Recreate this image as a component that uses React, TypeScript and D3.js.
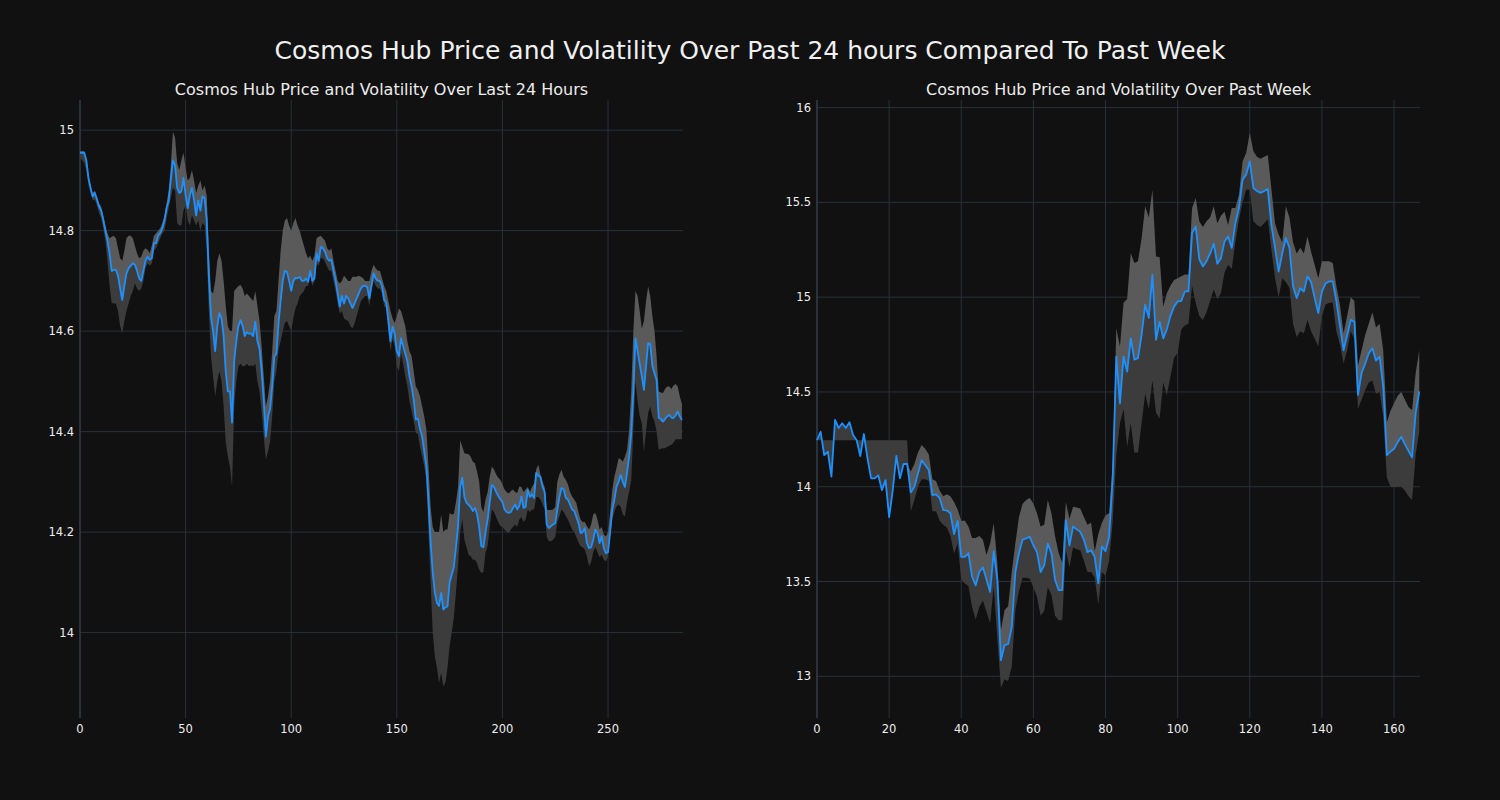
import React, { useEffect } from 'react';
import * as d3 from 'd3';

// last 24 hours (one point per 5 min)
const dayPrice = [
  14.955, 14.955, 14.955, 14.94, 14.905, 14.885, 14.868, 14.875, 14.862, 14.848,
  14.84, 14.822, 14.8, 14.78, 14.755, 14.72, 14.722, 14.722, 14.71, 14.685,
  14.662, 14.69, 14.715, 14.725, 14.73, 14.735, 14.732, 14.72, 14.705, 14.7,
  14.72, 14.74, 14.748, 14.742, 14.745, 14.775, 14.775, 14.79, 14.795, 14.805,
  14.82, 14.845, 14.86, 14.9, 14.94, 14.93, 14.885, 14.875, 14.878, 14.905,
  14.87, 14.845, 14.87, 14.885, 14.86, 14.83, 14.86, 14.84, 14.868, 14.865,
  14.82, 14.71, 14.63, 14.6, 14.56, 14.61, 14.636, 14.625, 14.59, 14.52,
  14.48, 14.48, 14.418, 14.54, 14.58, 14.61, 14.622, 14.61, 14.59, 14.598,
  14.595, 14.595, 14.59, 14.619, 14.58, 14.565, 14.52, 14.46, 14.39, 14.43,
  14.445, 14.49, 14.55, 14.555, 14.616, 14.66, 14.7, 14.72, 14.718, 14.7,
  14.68, 14.7, 14.706, 14.705, 14.708, 14.7, 14.7, 14.705, 14.698, 14.72,
  14.7, 14.705, 14.755, 14.74, 14.768, 14.765, 14.758, 14.745, 14.74, 14.742,
  14.72, 14.7, 14.675, 14.649, 14.67, 14.655, 14.67, 14.665, 14.655, 14.646,
  14.655, 14.665, 14.675, 14.685, 14.69, 14.69, 14.688, 14.665, 14.69, 14.715,
  14.705, 14.7, 14.7, 14.69, 14.662, 14.657, 14.62, 14.58, 14.609, 14.595,
  14.56, 14.55, 14.586, 14.57, 14.555, 14.54, 14.51, 14.49, 14.463, 14.424,
  14.426, 14.405, 14.39, 14.36, 14.33, 14.26, 14.18, 14.12, 14.08, 14.059,
  14.053, 14.079, 14.046, 14.05, 14.052, 14.1, 14.115, 14.13, 14.17, 14.212,
  14.29, 14.308, 14.27, 14.258, 14.254, 14.25, 14.242, 14.248, 14.235, 14.21,
  14.172, 14.17, 14.2, 14.225, 14.26, 14.294, 14.29, 14.28, 14.272, 14.266,
  14.26, 14.245, 14.24, 14.238, 14.24, 14.248, 14.255, 14.245, 14.252, 14.271,
  14.248, 14.25, 14.284, 14.27, 14.275, 14.268, 14.318, 14.312, 14.31, 14.29,
  14.28, 14.215, 14.208, 14.212, 14.215, 14.218, 14.245, 14.27, 14.288, 14.285,
  14.268, 14.265, 14.255, 14.245, 14.242, 14.23, 14.218, 14.198, 14.2, 14.208,
  14.178, 14.168, 14.17, 14.185, 14.205, 14.198, 14.178, 14.192, 14.168, 14.158,
  14.16, 14.2, 14.245, 14.264, 14.29, 14.3, 14.314, 14.3, 14.29, 14.318,
  14.35, 14.397, 14.48, 14.586, 14.56, 14.535, 14.51, 14.483, 14.53, 14.576,
  14.574, 14.53, 14.516, 14.503, 14.427, 14.425, 14.42, 14.425, 14.43, 14.433,
  14.428, 14.427, 14.432, 14.44, 14.43, 14.423,
];

const dayUpper = [
  14.958, 14.958, 14.958, 14.945, 14.91, 14.89, 14.875, 14.88, 14.868, 14.855,
  14.848, 14.83, 14.81, 14.795, 14.785, 14.788, 14.79, 14.785, 14.765, 14.745,
  14.74, 14.76, 14.785, 14.79, 14.79, 14.785, 14.77, 14.755, 14.745, 14.748,
  14.76, 14.765, 14.762, 14.755, 14.77, 14.79, 14.795, 14.8, 14.805, 14.815,
  14.83, 14.855, 14.88, 14.93, 14.997, 14.985, 14.935, 14.92, 14.94, 14.955,
  14.925, 14.9, 14.905, 14.92, 14.9, 14.875, 14.89, 14.9, 14.88, 14.89,
  14.87, 14.76, 14.68, 14.675, 14.7, 14.74, 14.755, 14.74, 14.7, 14.65,
  14.61, 14.6, 14.6, 14.68, 14.685, 14.69, 14.692, 14.685, 14.67, 14.675,
  14.67, 14.665, 14.66, 14.68, 14.65, 14.62, 14.57, 14.51, 14.45, 14.47,
  14.5, 14.56, 14.63, 14.64, 14.7, 14.76, 14.8, 14.82, 14.825, 14.81,
  14.8, 14.815, 14.825, 14.81, 14.8, 14.785, 14.77, 14.755, 14.745, 14.75,
  14.74, 14.75, 14.785, 14.788, 14.79, 14.785, 14.78, 14.765, 14.76, 14.765,
  14.74, 14.72, 14.7, 14.695, 14.7, 14.71, 14.705, 14.7, 14.7, 14.708,
  14.708, 14.708, 14.71, 14.708, 14.705, 14.7, 14.7, 14.7, 14.72, 14.732,
  14.725, 14.72, 14.72, 14.705, 14.69, 14.68, 14.66, 14.64, 14.625, 14.616,
  14.63, 14.645, 14.64, 14.625, 14.61, 14.58, 14.56, 14.55, 14.52, 14.49,
  14.483, 14.47, 14.45, 14.43, 14.404, 14.33, 14.25, 14.21, 14.2, 14.2,
  14.2, 14.235, 14.2, 14.205, 14.205, 14.238, 14.235, 14.236, 14.26, 14.29,
  14.383, 14.37, 14.357, 14.356, 14.355, 14.35, 14.34, 14.337, 14.32, 14.3,
  14.25, 14.24, 14.265, 14.28, 14.31, 14.33, 14.325, 14.315, 14.308, 14.304,
  14.295, 14.285, 14.28, 14.277, 14.282, 14.285, 14.28, 14.278, 14.291, 14.29,
  14.28, 14.285, 14.29, 14.28, 14.29, 14.297, 14.325, 14.334, 14.315, 14.3,
  14.29, 14.245, 14.244, 14.244, 14.245, 14.25, 14.3, 14.315, 14.324, 14.31,
  14.304, 14.295, 14.28, 14.271, 14.265, 14.258, 14.24, 14.225, 14.22, 14.22,
  14.212, 14.205, 14.215, 14.235, 14.238, 14.225, 14.205, 14.21, 14.195, 14.191,
  14.2, 14.24, 14.284, 14.31, 14.327, 14.347, 14.345, 14.34, 14.35, 14.364,
  14.404, 14.483, 14.6, 14.68, 14.67, 14.64, 14.605, 14.62, 14.66, 14.689,
  14.67, 14.63, 14.6, 14.55, 14.48, 14.478, 14.477, 14.485, 14.49, 14.49,
  14.485, 14.492, 14.495, 14.49, 14.47, 14.455,
];

const dayLower = [
  14.945, 14.94, 14.935, 14.92, 14.89, 14.875, 14.86, 14.862, 14.85, 14.835,
  14.825, 14.805, 14.78, 14.74, 14.69, 14.656, 14.655, 14.655, 14.64, 14.61,
  14.596, 14.62, 14.64, 14.655, 14.67, 14.68, 14.695, 14.685, 14.68, 14.685,
  14.7, 14.725, 14.735, 14.73, 14.735, 14.76, 14.765, 14.775, 14.785, 14.795,
  14.8, 14.825, 14.845, 14.865, 14.885, 14.88, 14.815, 14.81, 14.81, 14.84,
  14.85, 14.82, 14.81, 14.83, 14.82, 14.81, 14.82, 14.8, 14.815, 14.81,
  14.76, 14.64, 14.55, 14.51, 14.47, 14.5, 14.52, 14.5, 14.45, 14.38,
  14.35, 14.33, 14.29, 14.45, 14.5, 14.53, 14.535, 14.53, 14.53, 14.535,
  14.53, 14.532, 14.53, 14.535, 14.5, 14.48, 14.44, 14.39, 14.344, 14.36,
  14.38, 14.43, 14.5, 14.52, 14.563, 14.58, 14.6, 14.616, 14.62, 14.61,
  14.6, 14.625, 14.645, 14.655, 14.67, 14.675, 14.68, 14.69, 14.69, 14.71,
  14.69, 14.7, 14.735, 14.73, 14.745, 14.745, 14.738, 14.728, 14.72, 14.72,
  14.7, 14.68, 14.655, 14.635, 14.64, 14.625, 14.622, 14.62, 14.61, 14.605,
  14.615, 14.63, 14.645, 14.66, 14.665, 14.67, 14.67, 14.65, 14.68, 14.7,
  14.69, 14.685, 14.685, 14.675, 14.65, 14.645, 14.6, 14.56, 14.585, 14.57,
  14.53, 14.52, 14.555, 14.535, 14.51, 14.49, 14.46, 14.44, 14.42, 14.397,
  14.395, 14.37, 14.35, 14.33, 14.304, 14.2, 14.1, 14.0, 13.953, 13.93,
  13.9, 13.92, 13.893, 13.9, 13.93, 13.973, 14.0, 14.03, 14.08, 14.132,
  14.2, 14.225, 14.185, 14.17, 14.155, 14.152, 14.145, 14.145, 14.138, 14.125,
  14.119, 14.12, 14.16, 14.172, 14.21, 14.245, 14.24, 14.23, 14.22, 14.212,
  14.21, 14.205, 14.2, 14.198, 14.205, 14.21, 14.215, 14.21, 14.225, 14.23,
  14.22, 14.225, 14.245, 14.24, 14.245, 14.245, 14.27, 14.27, 14.265, 14.255,
  14.245, 14.19, 14.182, 14.182, 14.185, 14.19, 14.22, 14.231, 14.245, 14.24,
  14.232, 14.225, 14.215, 14.205, 14.2, 14.19, 14.18, 14.172, 14.17, 14.165,
  14.152, 14.132, 14.14, 14.16, 14.17, 14.16, 14.15, 14.155, 14.145, 14.142,
  14.15, 14.19, 14.225, 14.24, 14.251, 14.255, 14.25, 14.235, 14.231, 14.26,
  14.28, 14.304, 14.404, 14.5, 14.46, 14.43, 14.417, 14.36, 14.4, 14.437,
  14.45, 14.43, 14.42, 14.4, 14.364, 14.366, 14.367, 14.367, 14.37, 14.372,
  14.374, 14.378, 14.385, 14.385, 14.385, 14.385,
];

// past week (hourly)
const weekPrice = [
  14.246, 14.29, 14.167, 14.185, 14.053, 14.352, 14.31, 14.335, 14.31, 14.34,
  14.273, 14.245, 14.162, 14.278, 14.15, 14.044, 14.044, 14.06, 13.982, 14.035,
  13.84, 13.98, 14.162, 14.044, 14.12, 14.12, 13.97, 14.0, 14.07, 14.14,
  14.115, 14.088, 13.956, 13.96, 13.94, 13.877, 13.875, 13.86, 13.75, 13.82,
  13.63, 13.63, 13.65, 13.525, 13.48, 13.55, 13.575, 13.51, 13.445, 13.66,
  13.51, 13.085, 13.165, 13.17, 13.26, 13.55, 13.65, 13.72, 13.728, 13.735,
  13.69, 13.655, 13.55, 13.585, 13.7, 13.65, 13.51, 13.455, 13.455, 13.824,
  13.69, 13.79, 13.775, 13.762, 13.72, 13.655, 13.665, 13.63, 13.49, 13.685,
  13.66, 13.735, 14.05, 14.686, 14.44, 14.686, 14.607, 14.783, 14.67, 14.678,
  14.8, 14.96, 14.89, 15.118, 14.775, 14.87, 14.783, 14.83, 14.9, 14.95,
  14.977, 14.98, 15.03, 15.03, 15.338, 15.373, 15.2, 15.162, 15.19, 15.23,
  15.282, 15.176, 15.205, 15.294, 15.32, 15.26, 15.39, 15.47, 15.62, 15.647,
  15.716, 15.575, 15.56, 15.55, 15.56, 15.57, 15.38, 15.26, 15.135, 15.23,
  15.312, 15.26, 15.056, 14.995, 15.047, 15.03, 15.11, 15.08, 14.995, 14.916,
  15.03, 15.072, 15.083, 15.083, 14.98, 14.85, 14.72, 14.8, 14.88, 14.87,
  14.484, 14.6, 14.65, 14.704, 14.73, 14.665, 14.686, 14.528, 14.167, 14.185,
  14.2, 14.235, 14.264, 14.225, 14.19, 14.155, 14.39, 14.503,
];

const weekUpper = [
  14.246, 14.29, 14.167, 14.185, 14.053, 14.352, 14.31, 14.335, 14.31, 14.34,
  14.273, 14.245, 14.162, 14.278, 14.15, 14.044, 14.044, 14.06, 13.982, 14.035,
  13.84, 13.98, 14.162, 14.044, 14.12, 14.12, 14.08, 14.12, 14.18, 14.22,
  14.2, 14.17, 14.04, 14.03, 13.98, 13.95, 13.96, 13.95, 13.92, 13.88,
  13.82, 13.82, 13.79, 13.73, 13.73, 13.74, 13.72, 13.64, 13.7, 13.807,
  13.6, 13.243, 13.35, 13.37, 13.55, 13.7, 13.84, 13.91, 13.93, 13.94,
  13.91, 13.86, 13.79, 13.8, 13.93, 13.86, 13.74, 13.65, 13.6, 13.92,
  13.83, 13.894, 13.89, 13.885, 13.84, 13.8, 13.81, 13.66, 13.75, 13.81,
  13.85, 13.86, 14.12, 14.836, 14.74, 14.97, 14.99, 15.233, 15.18, 15.19,
  15.31, 15.48, 15.42, 15.567, 15.215, 15.21, 14.95, 15.02, 15.06, 15.09,
  15.1, 15.11, 15.12, 15.12, 15.47, 15.523, 15.4, 15.37, 15.4, 15.42,
  15.48, 15.39, 15.43, 15.45, 15.38, 15.47, 15.47, 15.54, 15.716, 15.76,
  15.866, 15.77, 15.74, 15.73, 15.74, 15.75, 15.57, 15.39, 15.33, 15.29,
  15.48, 15.42, 15.29, 15.23, 15.26, 15.23, 15.32, 15.24, 15.17, 15.1,
  15.19, 15.19, 15.19, 15.18, 15.06, 14.96, 14.81, 14.9, 15.0, 14.98,
  14.64, 14.72, 14.8, 14.86, 14.92, 14.84, 14.86, 14.72, 14.34, 14.4,
  14.44, 14.48, 14.5, 14.46, 14.42, 14.405, 14.6, 14.72,
];

const weekLower = [
  14.246, 14.245, 14.245, 14.245, 14.245, 14.245, 14.245, 14.245, 14.245, 14.245,
  14.245, 14.245, 14.245, 14.245, 14.245, 14.245, 14.245, 14.245, 14.245, 14.245,
  14.245, 14.245, 14.245, 14.245, 14.245, 14.245, 13.87, 13.93, 14.0, 14.04,
  14.04, 14.03, 13.87, 13.87, 13.82, 13.8, 13.785, 13.74, 13.648, 13.7,
  13.51, 13.49, 13.475, 13.366, 13.3, 13.366, 13.4, 13.34, 13.28, 13.475,
  13.2, 12.94, 12.985, 12.975, 13.05, 13.35, 13.45, 13.52, 13.52, 13.515,
  13.47, 13.42, 13.32, 13.345, 13.47, 13.43, 13.32, 13.295, 13.295, 13.665,
  13.575, 13.68, 13.67, 13.665, 13.61, 13.55, 13.55, 13.52, 13.38, 13.55,
  13.53, 13.61, 13.82, 14.167, 14.335, 14.41, 14.21, 14.335, 14.18, 14.18,
  14.335, 14.49, 14.41, 14.56, 14.39, 14.36, 14.55, 14.484, 14.58, 14.68,
  14.705, 14.83, 14.85, 14.86, 15.06, 14.97, 14.9, 14.88, 14.92, 14.98,
  15.04, 14.99, 15.02, 15.13, 15.17, 15.15, 15.29, 15.41, 15.5, 15.567,
  15.567, 15.4, 15.38, 15.37, 15.39, 15.41, 15.25, 15.1, 15.0, 15.1,
  15.08, 15.05, 14.86, 14.79, 14.82, 14.81, 14.88, 14.82, 14.78, 14.74,
  14.9, 14.96, 14.97, 14.97, 14.82, 14.75, 14.65, 14.72, 14.82, 14.78,
  14.41, 14.46, 14.51, 14.55, 14.56, 14.49, 14.5, 14.37, 14.05, 14.0,
  13.998, 14.0, 14.0, 13.98, 13.95, 13.93, 14.17, 14.29,
];

const dayTicksX = [0, 50, 100, 150, 200, 250];
const dayTicksY = [14, 14.2, 14.4, 14.6, 14.8, 15];
const weekTicksX = [0, 20, 40, 60, 80, 100, 120, 140, 160];
const weekTicksY = [13, 13.5, 14, 14.5, 15, 15.5, 16];

const mainTitle = 'Cosmos Hub Price and Volatility Over Past 24 hours Compared To Past Week';
const dayTitle = 'Cosmos Hub Price and Volatility Over Last 24 Hours';
const weekTitle = 'Cosmos Hub Price and Volatility Over Past Week';

const width = 1500;
const height = 800;
const font = 'DejaVu Sans, sans-serif';

interface IPanel {
  left: number;
  right: number;
  title: string;
  price: number[];
  upper: number[];
  lower: number[];
  xMax: number;
  yDomain: [number, number];
  xTicks: number[];
  yTicks: number[];
}

const App = () => {
  const panels: IPanel[] = [
    {
      left: 80,
      right: 683,
      title: dayTitle,
      price: dayPrice,
      upper: dayUpper,
      lower: dayLower,
      xMax: 285.5,
      yDomain: [13.83, 15.06],
      xTicks: dayTicksX,
      yTicks: dayTicksY,
    },
    {
      left: 817,
      right: 1420,
      title: weekTitle,
      price: weekPrice,
      upper: weekUpper,
      lower: weekLower,
      xMax: 167.2,
      yDomain: [12.78, 16.04],
      xTicks: weekTicksX,
      yTicks: weekTicksY,
    },
  ];

  const top = 100;
  const bottom = 718;

  function drawChart() {
    document.body.style.margin = '0';
    d3.select('#chart-container').select('svg').remove();

    const svg = d3
      .select('#chart-container')
      .append('svg')
      .attr('width', width)
      .attr('height', height)
      .style('display', 'block');

    svg.append('rect').attr('width', width).attr('height', height).attr('fill', '#111111');

    svg
      .append('text')
      .attr('x', width / 2)
      .attr('y', 59)
      .attr('text-anchor', 'middle')
      .attr('font-family', font)
      .attr('font-size', 25)
      .attr('fill', '#f0f0f0')
      .text(mainTitle);

    panels.forEach((p) => {
      const x = d3.scaleLinear().domain([0, p.xMax]).range([p.left, p.right]);
      const y = d3.scaleLinear().domain(p.yDomain).range([bottom, top]);
      const g = svg.append('g');

      // grid
      g.selectAll('.gx')
        .data(p.xTicks)
        .enter()
        .append('line')
        .attr('x1', (d) => x(d))
        .attr('x2', (d) => x(d))
        .attr('y1', top)
        .attr('y2', bottom)
        .attr('stroke', '#28313c')
        .attr('stroke-width', 1);

      g.selectAll('.gy')
        .data(p.yTicks)
        .enter()
        .append('line')
        .attr('x1', p.left)
        .attr('x2', p.right)
        .attr('y1', (d) => y(d))
        .attr('y2', (d) => y(d))
        .attr('stroke', '#28313c')
        .attr('stroke-width', 1);

      // left spine
      g.append('line')
        .attr('x1', p.left)
        .attr('x2', p.left)
        .attr('y1', top)
        .attr('y2', bottom)
        .attr('stroke', '#34404e')
        .attr('stroke-width', 1.2);

      const idx = d3.range(p.price.length);

      // volatility band: above price lighter, below price darker
      const upperArea = d3
        .area<number>()
        .x((i) => x(i))
        .y0((i) => y(p.price[i]))
        .y1((i) => y(p.upper[i]));

      const lowerArea = d3
        .area<number>()
        .x((i) => x(i))
        .y0((i) => y(p.lower[i]))
        .y1((i) => y(p.price[i]));

      g.append('path').attr('d', lowerArea(idx)).attr('fill', '#3c3c3c');
      g.append('path').attr('d', upperArea(idx)).attr('fill', '#5a5a5a');

      const line = d3
        .line<number>()
        .x((i) => x(i))
        .y((i) => y(p.price[i]));

      g.append('path')
        .attr('d', line(idx))
        .attr('fill', 'none')
        .attr('stroke', '#1e90ff')
        .attr('stroke-width', 1.8)
        .attr('stroke-linejoin', 'round');

      // tick labels
      g.selectAll('.tx')
        .data(p.xTicks)
        .enter()
        .append('text')
        .attr('x', (d) => x(d))
        .attr('y', 733)
        .attr('text-anchor', 'middle')
        .attr('font-family', font)
        .attr('font-size', 11.5)
        .attr('fill', '#eeeeee')
        .text((d) => String(d));

      g.selectAll('.ty')
        .data(p.yTicks)
        .enter()
        .append('text')
        .attr('x', p.left - 6)
        .attr('y', (d) => y(d))
        .attr('dy', '0.35em')
        .attr('text-anchor', 'end')
        .attr('font-family', font)
        .attr('font-size', 11.5)
        .attr('fill', '#eeeeee')
        .text((d) => String(d));

      g.append('text')
        .attr('x', (p.left + p.right) / 2)
        .attr('y', 95)
        .attr('text-anchor', 'middle')
        .attr('font-family', font)
        .attr('font-size', 16)
        .attr('fill', '#ececec')
        .text(p.title);
    });
  }

  useEffect(() => {
    drawChart();
  }, []);

  return <div id='chart-container' />;
};

export default App;
